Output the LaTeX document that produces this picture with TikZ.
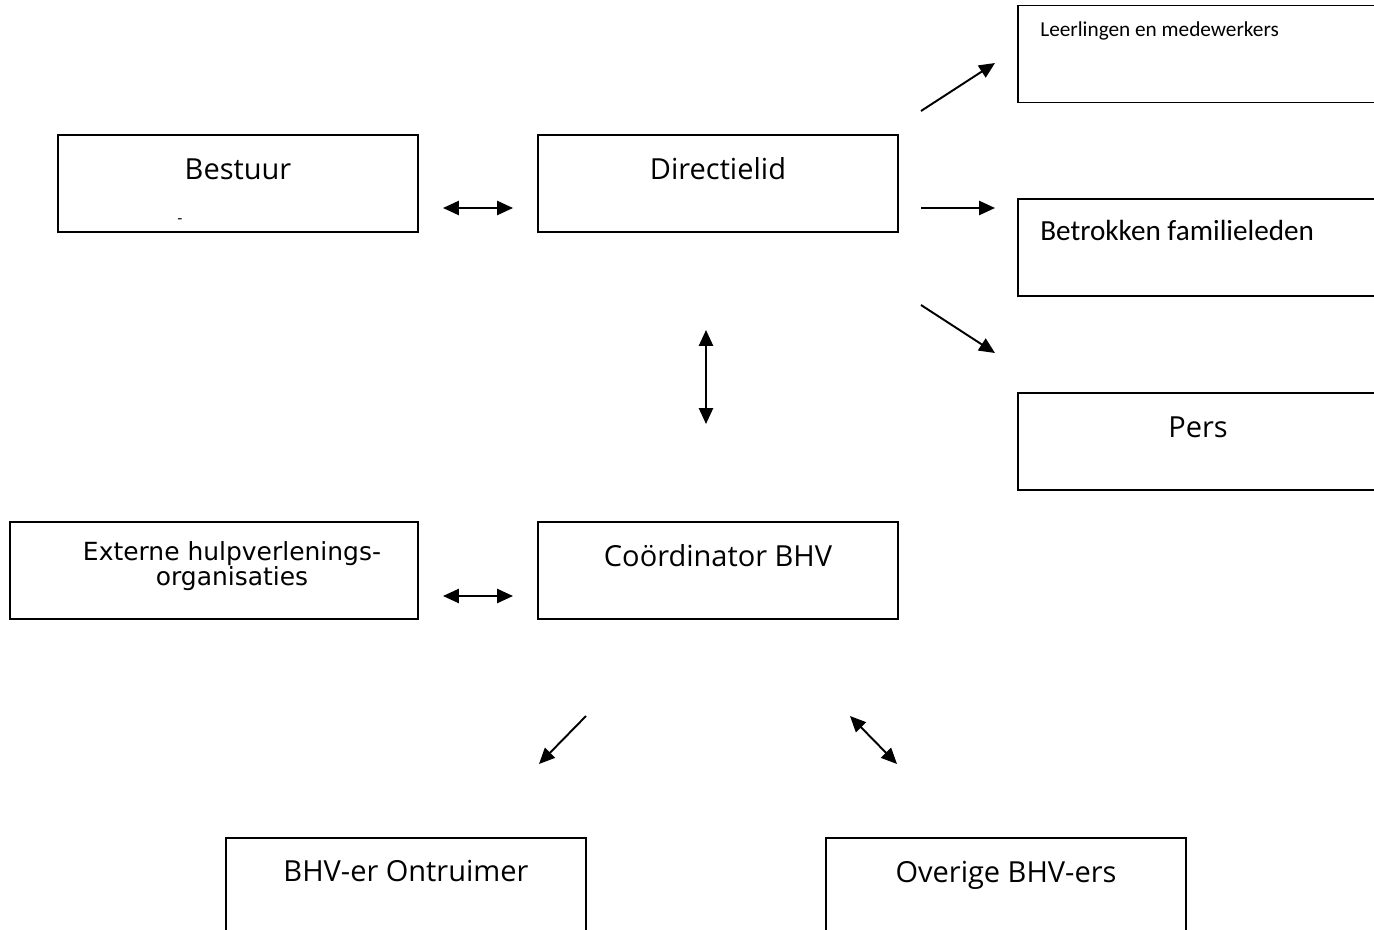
\documentclass[tikz,border=0pt]{standalone}
\usepackage{fontspec}
\newfontfamily\comicfont{Open Sans}
\newfontfamily\calfont{Carlito}
\newfontfamily\verdfont{DejaVu Sans}
\usetikzlibrary{arrows.meta, positioning, calc}
\tikzset{
  % Box styles
  orgbox/.style={rectangle, draw=black, line width=1.1pt, minimum width=360*0.02cm, minimum height=97*0.02cm, inner sep=0pt},
  % Text styles
  comictext/.style={font=\comicfont\fontsize{16.5}{19}\selectfont, inner sep=0pt},
  caltext/.style={font=\calfont\fontsize{16.6}{19}\selectfont, inner sep=0pt, anchor=west},
  calsmall/.style={font=\calfont\fontsize{12.1}{14}\selectfont, inner sep=0pt, anchor=west},
  verdtext/.style={font=\verdfont\fontsize{14.2}{14.2}\selectfont, inner sep=0pt, align=center},
  % Arrow styles
  arrow/.style={-{Triangle[length=9pt,width=8pt]}, line width=1.1pt},
  dblarrow/.style={{Triangle[length=9pt,width=8pt]}-{Triangle[length=9pt,width=8pt]}, line width=1.1pt}
}
\begin{document}
\begin{tikzpicture}[x=0.02cm, y=-0.02cm]
  \useasboundingbox (0,0) rectangle (1374,930);

  % Top row
  \node[orgbox] (bestuur) at (238,183.5) {};
  \node[comictext] (bestuurtxt) at (238,169) {Bestuur};
  \node[font=\comicfont\small, inner sep=0pt] (bestuurmark) at (180,221) {-};

  \node[orgbox] (directie) at (718,183.5) {};
  \node[comictext] (directietxt) at (718,169) {Directielid};

  % Right column
  \node[orgbox] (leerlingen) at (1198,54) {};
  \node[calsmall] (leerlingentxt) at (1040,31) {Leerlingen en medewerkers};

  \node[orgbox] (familie) at (1198,247.5) {};
  \node[caltext] (familietxt) at (1040,230) {Betrokken familieleden};

  \node[orgbox] (pers) at (1198,441.5) {};
  \node[comictext] (perstxt) at (1198,427) {Pers};

  % Middle row
  \node[orgbox, minimum width=408*0.02cm] (extern) at (214,570.5) {};
  \node[verdtext] (externtxt) at (232,566) {Externe hulpverlenings-\\organisaties};

  \node[orgbox] (coord) at (718,570.5) {};
  \node[comictext] (coordtxt) at (718,556) {Coördinator BHV};

  % Bottom row
  \node[orgbox] (ontruimer) at (406,886.5) {};
  \node[comictext] (ontruimertxt) at (406,871) {BHV-er Ontruimer};

  \node[orgbox] (overige) at (1006,886.5) {};
  \node[comictext] (overigetxt) at (1006,875) {Overige BHV-ers};

  % Arrow ends
  \coordinate (a1) at (443,208);  \coordinate (b1) at (513,208);
  \coordinate (a2) at (921,111);  \coordinate (b2) at (995,63);
  \coordinate (a3) at (921,208);  \coordinate (b3) at (995,208);
  \coordinate (a4) at (921,305);  \coordinate (b4) at (995,353);
  \coordinate (a5) at (706,330);  \coordinate (b5) at (706,424);
  \coordinate (a6) at (443,596);  \coordinate (b6) at (513,596);
  \coordinate (a7) at (586,716);  \coordinate (b7) at (539,764);
  \coordinate (a8) at (850,716);  \coordinate (b8) at (897,764);

  % Arrows
  \draw[dblarrow] (a1) -- (b1);
  \draw[arrow] (a2) -- (b2);
  \draw[arrow] (a3) -- (b3);
  \draw[arrow] (a4) -- (b4);
  \draw[dblarrow] (a5) -- (b5);
  \draw[dblarrow] (a6) -- (b6);
  \draw[arrow] (a7) -- (b7);
  \draw[dblarrow] (a8) -- (b8);
\end{tikzpicture}
\end{document}
